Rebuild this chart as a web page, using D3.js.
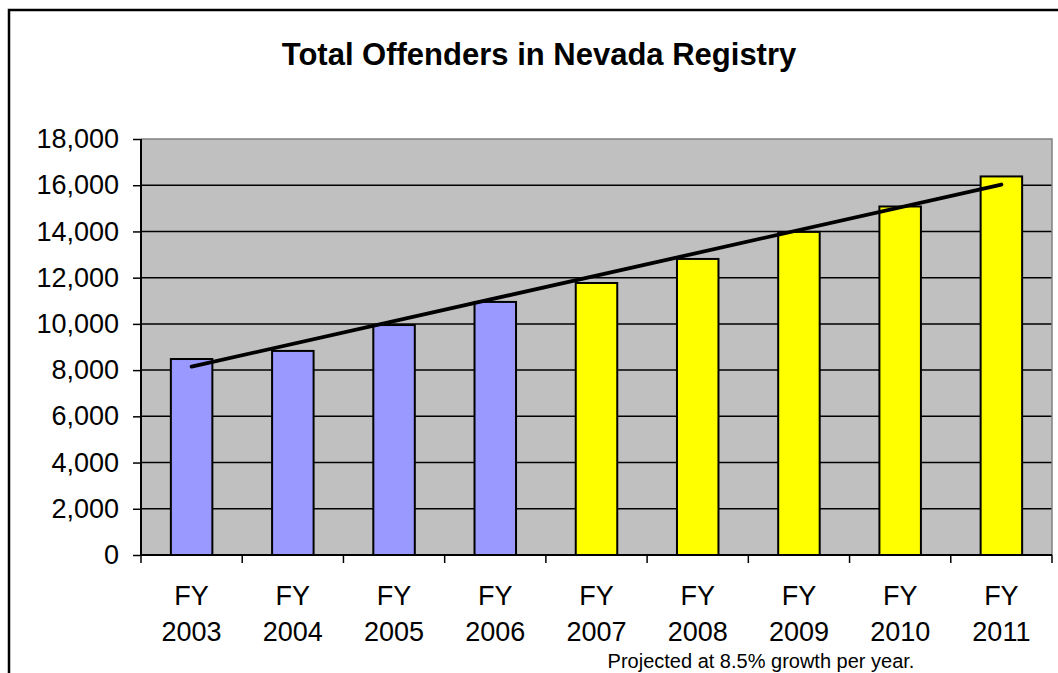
<!DOCTYPE html>
<html>
<head>
<meta charset="utf-8">
<script src="https://cdn.jsdelivr.net/npm/d3@7"></script>
<style>
  body { margin: 0; background: #fff; }
  svg { display: block; font-family: "Liberation Sans", Arial, sans-serif; }
</style>
</head>
<body>
<script>
const width = 1058;
const height = 673;

// data
const years = ["2003", "2004", "2005", "2006", "2007", "2008", "2009", "2010", "2011"];
const offenders = [8480, 8830, 9950, 10950, 11770, 12810, 13980, 15080, 16380];
const projected = [false, false, false, false, true, true, true, true, true];
const trendYears = ["2003", "2011"];
const trendValues = [8150, 16030];
const yTicks = [0, 2000, 4000, 6000, 8000, 10000, 12000, 14000, 16000, 18000];

const plot = { left: 141, right: 1052, top: 139, bottom: 555 };

const svg = d3.select("body").append("svg")
  .attr("width", width)
  .attr("height", height);

// outer chart frame (runs off the right and bottom edges)
svg.append("rect")
  .attr("x", 9)
  .attr("y", 10)
  .attr("width", 1200)
  .attr("height", 900)
  .attr("fill", "none")
  .attr("stroke", "#000")
  .attr("stroke-width", 2.5);

svg.append("text")
  .attr("x", 539)
  .attr("y", 65)
  .attr("text-anchor", "middle")
  .style("font-size", "31px")
  .style("font-weight", "bold")
  .text("Total Offenders in Nevada Registry");

const x = d3.scaleBand()
  .domain(years)
  .range([plot.left, plot.right])
  .padding(0);

const y = d3.scaleLinear()
  .domain([0, 18000])
  .range([plot.bottom, plot.top]);

// plot background
svg.append("rect")
  .attr("x", plot.left)
  .attr("y", plot.top)
  .attr("width", plot.right - plot.left)
  .attr("height", plot.bottom - plot.top)
  .attr("fill", "#c0c0c0");

// gridlines
svg.append("g")
  .selectAll("line")
  .data(yTicks.filter((d) => d > 0 && d < 18000))
  .enter().append("line")
  .attr("x1", plot.left)
  .attr("x2", plot.right)
  .attr("y1", (d) => y(d))
  .attr("y2", (d) => y(d))
  .attr("stroke", "#000")
  .attr("stroke-width", 1.5);

// gray border top / right
svg.append("path")
  .attr("d", `M${plot.left},${plot.top}H${plot.right}V${plot.bottom}`)
  .attr("fill", "none")
  .attr("stroke", "#808080")
  .attr("stroke-width", 1.5);

// bars
const barW = x.bandwidth() * 0.41;
svg.append("g")
  .selectAll("rect")
  .data(years)
  .enter().append("rect")
  .attr("x", (d) => x(d) + (x.bandwidth() - barW) / 2)
  .attr("y", (d, i) => y(offenders[i]))
  .attr("width", barW)
  .attr("height", (d, i) => y(0) - y(offenders[i]))
  .attr("fill", (d, i) => projected[i] ? "#ffff00" : "#9999ff")
  .attr("stroke", "#000")
  .attr("stroke-width", 2);

// y axis
const yAxis = svg.append("g")
  .attr("transform", `translate(${plot.left},0)`)
  .call(d3.axisLeft(y)
    .tickValues(yTicks)
    .tickFormat(d3.format(","))
    .tickSize(8)
    .tickPadding(14));
yAxis.select(".domain")
  .attr("d", `M0,${plot.top}V${plot.bottom}`)
  .attr("stroke-width", 2);
yAxis.selectAll(".tick line").attr("stroke-width", 1.5);
yAxis.selectAll("text")
  .style("font-family", "\"Liberation Sans\", Arial, sans-serif")
  .style("font-size", "27px")
  .attr("fill", "#000");

// x axis line and boundary ticks
const bounds = years.map((d) => x(d)).concat([plot.right]);
svg.append("line")
  .attr("x1", plot.left)
  .attr("x2", plot.right)
  .attr("y1", plot.bottom)
  .attr("y2", plot.bottom)
  .attr("stroke", "#000")
  .attr("stroke-width", 2);
svg.append("g")
  .selectAll("line")
  .data(bounds)
  .enter().append("line")
  .attr("x1", (d) => d)
  .attr("x2", (d) => d)
  .attr("y1", plot.bottom)
  .attr("y2", plot.bottom + 8)
  .attr("stroke", "#000")
  .attr("stroke-width", 1.5);

const xLabels = svg.append("g")
  .selectAll("text")
  .data(years)
  .enter().append("text")
  .attr("x", (d) => x(d) + x.bandwidth() / 2)
  .attr("text-anchor", "middle")
  .style("font-size", "27px");
xLabels.append("tspan")
  .attr("x", (d) => x(d) + x.bandwidth() / 2)
  .attr("y", 605)
  .text("FY");
xLabels.append("tspan")
  .attr("x", (d) => x(d) + x.bandwidth() / 2)
  .attr("y", 641)
  .text((d) => d);

// trend line
const line = d3.line()
  .x((d) => x(d) + x.bandwidth() / 2)
  .y((d, i) => y(trendValues[i]));
svg.append("path")
  .datum(trendYears)
  .attr("d", line)
  .attr("fill", "none")
  .attr("stroke", "#000")
  .attr("stroke-width", 3.8)
  .attr("stroke-linecap", "round");

svg.append("text")
  .attr("x", 761)
  .attr("y", 668)
  .attr("text-anchor", "middle")
  .style("font-size", "20px")
  .text("Projected at 8.5% growth per year.");
</script>
</body>
</html>
